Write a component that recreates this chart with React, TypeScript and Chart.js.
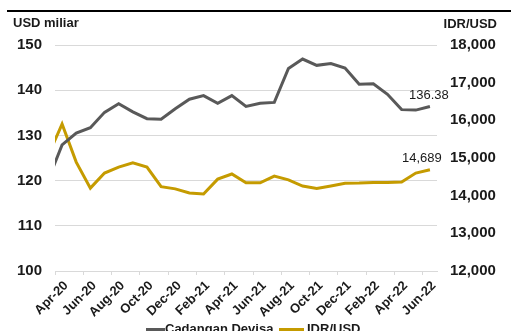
import React, { useEffect, useRef } from 'react';
import { Chart, registerables } from 'chart.js';

Chart.register(...registerables);

// First entry (Mar-20) lies just outside the visible range; its segment is clipped at the left edge.
const months = [
  'Mar-20', 'Apr-20', 'May-20', 'Jun-20', 'Jul-20', 'Aug-20', 'Sep-20', 'Oct-20', 'Nov-20', 'Dec-20',
  'Jan-21', 'Feb-21', 'Mar-21', 'Apr-21', 'May-21', 'Jun-21', 'Jul-21', 'Aug-21', 'Sep-21', 'Oct-21',
  'Nov-21', 'Dec-21', 'Jan-22', 'Feb-22', 'Mar-22', 'Apr-22', 'May-22', 'Jun-22',
];

const reserves = [
  120.0, 127.9, 130.5, 131.7, 135.1, 137.0, 135.2, 133.7, 133.6, 135.9,
  138.0, 138.8, 137.1, 138.8, 136.4, 137.1, 137.3, 144.8, 146.9, 145.5,
  145.9, 144.9, 141.3, 141.4, 139.1, 135.7, 135.6, 136.38,
];

const idrUsd = [
  15050, 15900, 14890, 14200, 14600, 14760, 14870, 14760, 14240, 14180,
  14070, 14045, 14440, 14575, 14340, 14340, 14520, 14420, 14256, 14190,
  14256, 14330, 14335, 14350, 14350, 14365, 14600, 14689,
];

const seriesNames = ['Cadangan Devisa', 'IDR/USD'];
const leftTitle = 'USD miliar';
const rightTitle = 'IDR/USD';

const GRAY = '#595959';
const GOLD = '#C59B00';
const GRID = '#d9d9d9';
const TEXT = '#1a1a1a';
const FONT = '"Liberation Sans", Arial, sans-serif';

export default function App() {
  const ref = useRef<HTMLCanvasElement>(null);

  useEffect(() => {
    const canvas = ref.current!;
    const overlay = {
      id: 'overlay',
      afterDraw(chart: any) {
        const ctx = chart.ctx as CanvasRenderingContext2D;
        ctx.save();
        // top rule
        ctx.fillStyle = '#000';
        ctx.fillRect(7, 10, 504, 2);
        // axis titles
        ctx.fillStyle = TEXT;
        ctx.font = `bold 13px ${FONT}`;
        ctx.textBaseline = 'alphabetic';
        ctx.textAlign = 'left';
        ctx.fillText(leftTitle, 13, 27);
        ctx.textAlign = 'right';
        ctx.fillText(rightTitle, 497, 28);

        // end-point value labels
        const m0 = chart.getDatasetMeta(0).data;
        const m1 = chart.getDatasetMeta(1).data;
        const p0 = m0[m0.length - 1];
        const p1 = m1[m1.length - 1];
        ctx.font = `13px ${FONT}`;
        ctx.textAlign = 'center';
        ctx.textBaseline = 'middle';
        ctx.fillText(reserves[reserves.length - 1].toFixed(2), p0.x - 1, p0.y - 11);
        ctx.fillText(idrUsd[idrUsd.length - 1].toLocaleString('en-US'), p1.x - 8, p1.y - 11);

        // legend
        ctx.font = `bold 13px ${FONT}`;
        ctx.textAlign = 'left';
        ctx.textBaseline = 'alphabetic';
        ctx.fillStyle = GRAY;
        ctx.fillRect(146, 328, 19, 5);
        ctx.fillStyle = TEXT;
        ctx.fillText(seriesNames[0], 165, 333);
        ctx.fillStyle = GOLD;
        ctx.fillRect(279, 328, 25, 5);
        ctx.fillStyle = TEXT;
        ctx.fillText(seriesNames[1], 307, 333);
        ctx.restore();
      },
    };

    const tickFont = { family: FONT, size: 15, weight: 'bold' as const };

    const chart = new Chart(canvas, {
      type: 'line',
      data: {
        labels: months,
        datasets: [
          {
            label: seriesNames[0],
            data: reserves,
            yAxisID: 'y',
            borderColor: GRAY,
            backgroundColor: GRAY,
            borderWidth: 3,
            pointRadius: 0,
            tension: 0,
            clip: 0,
          },
          {
            label: seriesNames[1],
            data: idrUsd,
            yAxisID: 'y1',
            borderColor: GOLD,
            backgroundColor: GOLD,
            borderWidth: 3,
            pointRadius: 0,
            tension: 0,
            clip: 0,
          },
        ],
      },
      options: {
        animation: false,
        responsive: false,
        maintainAspectRatio: false,
        devicePixelRatio: 1,
        layout: { padding: { top: 45, left: 0, right: 0, bottom: 0 } },
        plugins: { legend: { display: false }, tooltip: { enabled: false } },
        scales: {
          x: {
            type: 'category',
            min: 'Apr-20',
            max: 'Jun-22',
            offset: true,
            grid: {
              offset: true,
              drawOnChartArea: false,
              drawTicks: true,
              tickLength: 4,
              color: (c: any) => (c.index % 2 === 0 ? GRID : 'rgba(0,0,0,0)'),
            },
            border: { display: true, color: GRID },
            ticks: {
              autoSkip: false,
              maxRotation: 45,
              minRotation: 45,
              padding: 3,
              labelOffset: 4,
              color: TEXT,
              font: { family: FONT, size: 13, weight: 'bold' },
              callback: function (this: any, v: any, i: number) {
                return i % 2 === 0 ? this.getLabelForValue(v) : '';
              },
            },
            afterFit: (s: any) => {
              s.height = 60;
              s.paddingLeft = 0;
              s.paddingRight = 0;
            },
          },
          y: {
            position: 'left',
            min: 100,
            max: 150,
            ticks: { stepSize: 10, padding: 13, color: TEXT, font: tickFont },
            grid: { color: GRID, drawTicks: false },
            border: { display: false },
            afterFit: (s: any) => {
              s.width = 55;
            },
          },
          y1: {
            position: 'right',
            min: 12000,
            max: 18000,
            ticks: {
              stepSize: 1000,
              padding: 13,
              color: TEXT,
              font: tickFont,
              callback: (v: any) => Number(v).toLocaleString('en-US'),
            },
            grid: { display: false, drawTicks: false },
            border: { display: false },
            afterFit: (s: any) => {
              s.width = 74;
            },
          },
        },
      } as any,
      plugins: [overlay],
    });
    return () => chart.destroy();
  }, []);

  return (
    <div style={{ position: 'fixed', left: 0, top: 0, width: 511, height: 331, background: '#fff' }}>
      <canvas ref={ref} width={511} height={331} style={{ display: 'block' }} />
    </div>
  );
}
